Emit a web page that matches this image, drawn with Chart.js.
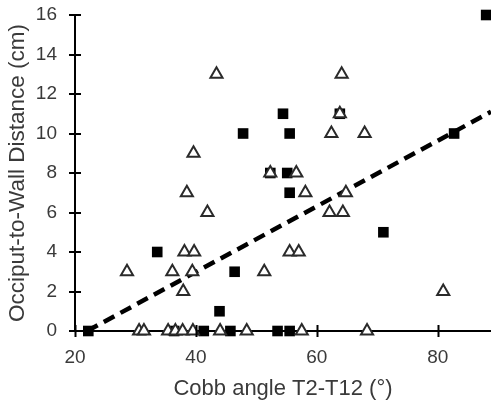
<!DOCTYPE html>
<html>
<head>
<meta charset="utf-8">
<script src="https://cdn.jsdelivr.net/npm/chart.js@4"></script>
<style>
  html, body { margin: 0; padding: 0; background: #fff; overflow: hidden; }
  #wrap { width: 491px; height: 404px; position: relative; }
</style>
</head>
<body>
<div id="wrap"><canvas id="c"></canvas></div>
<script>
// ---- data ----
const squareX = [22.2, 36.4, 41.3, 45.7, 53.5, 55.5, 43.9, 46.4, 33.6, 71.0, 55.5, 52.3, 55.1, 47.8, 55.5, 82.7, 54.4, 63.8, 88.0];
const squareY = [0, 0, 0, 0, 0, 0, 1, 3, 4, 5, 7, 8, 8, 10, 10, 10, 11, 11, 16];

const triangleX = [30.6, 31.4, 35.4, 36.6, 37.8, 39.5, 44.0, 48.4, 57.5, 68.3,
                   28.6, 36.1, 39.4, 51.3, 37.9, 38.1, 39.7, 41.9, 38.5, 39.6, 43.4,
                   52.3, 56.6, 58.1, 64.8, 62.1, 64.3, 55.5, 57.0, 62.4, 67.9, 63.8, 64.1, 80.9];
const triangleY = [0, 0, 0, 0, 0, 0, 0, 0, 0, 0,
                   3, 3, 3, 3, 2, 4, 4, 6, 7, 9, 13,
                   8, 8, 7, 7, 6, 6, 4, 4, 10, 10, 11, 13, 2];

const trendX = [22.0, 88.8];
const trendY = [0.0, 11.1];

const xTicks = [20, 40, 60, 80];
const yTicks = [0, 2, 4, 6, 8, 10, 12, 14, 16];

const xTitle = 'Cobb angle T2-T12 (°)';
const yTitle = 'Occiput-to-Wall Distance (cm)';

// ---- chart ----
const toPts = (xs, ys) => xs.map((x, i) => ({ x: x, y: ys[i] }));

const crossTicks = {
  id: 'crossTicks',
  afterDatasetsDraw(chart) {
    const { ctx, scales: { x, y } } = chart;
    ctx.save();
    ctx.strokeStyle = '#000';
    ctx.lineWidth = 2;
    ctx.beginPath();
    xTicks.forEach(v => {
      const px = Math.round(x.getPixelForValue(v)) + 0.5;
      ctx.moveTo(px, y.bottom - 6);
      ctx.lineTo(px, y.bottom + 6);
    });
    yTicks.forEach(v => {
      const py = Math.round(y.getPixelForValue(v));
      ctx.moveTo(x.left - 6, py);
      ctx.lineTo(x.left + 6, py);
    });
    ctx.stroke();
    ctx.restore();
  }
};

const textColor = '#3a3a3a';
const fontFam = '"Liberation Sans", Arial, sans-serif';

new Chart(document.getElementById('c'), {
  type: 'scatter',
  data: {
    datasets: [
      {
        label: 'triangles',
        data: toPts(triangleX, triangleY),
        pointStyle: 'triangle',
        pointRadius: 7,
        pointHoverRadius: 7,
        backgroundColor: '#fff',
        borderColor: '#2a2a2a',
        borderWidth: 2,
        order: 0
      },
      {
        label: 'squares',
        data: toPts(squareX, squareY),
        pointStyle: 'rect',
        pointRadius: 7.5,
        pointHoverRadius: 7.5,
        backgroundColor: '#000',
        borderColor: '#000',
        borderWidth: 0,
        order: 1
      },
      {
        type: 'line',
        label: 'trend',
        data: toPts(trendX, trendY),
        borderColor: '#000',
        borderWidth: 4.5,
        borderDash: [12, 7],
        borderCapStyle: 'butt',
        pointRadius: 0,
        fill: false,
        order: 2
      }
    ]
  },
  options: {
    responsive: true,
    maintainAspectRatio: false,
    animation: false,
    devicePixelRatio: 1,
    clip: false,
    layout: { autoPadding: false, padding: { left: 0, right: 0, top: 15, bottom: 0 } },
    plugins: { legend: { display: false }, tooltip: { enabled: false } },
    scales: {
      x: {
        type: 'linear',
        min: 20,
        max: 88.8,
        afterBuildTicks: s => { s.ticks = xTicks.map(v => ({ value: v })); },
        afterFit: s => { s.height = 73; s.paddingLeft = 0; s.paddingRight = 0; },
        grid: { display: false },
        border: { display: true, color: '#000', width: 2 },
        ticks: { color: textColor, padding: 7, font: { family: fontFam, size: 19 } },
        title: {
          display: true,
          text: xTitle,
          color: textColor,
          font: { family: fontFam, size: 22 },
          padding: { top: 0, bottom: 2 }
        }
      },
      y: {
        type: 'linear',
        min: 0,
        max: 16,
        afterBuildTicks: s => { s.ticks = yTicks.map(v => ({ value: v })); },
        afterFit: s => { s.width = 75; s.paddingTop = 0; s.paddingBottom = 0; },
        grid: { display: false },
        border: { display: true, color: '#000', width: 2 },
        ticks: { color: textColor, padding: 10, font: { family: fontFam, size: 19 } },
        title: {
          display: true,
          text: yTitle,
          color: textColor,
          font: { family: fontFam, size: 22.5 },
          padding: { top: 4, bottom: 0 }
        }
      }
    }
  },
  plugins: [crossTicks]
});
</script>
</body>
</html>
